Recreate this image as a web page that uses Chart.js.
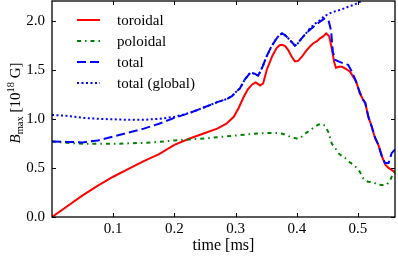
<!DOCTYPE html>
<html>
<head>
<meta charset="utf-8">
<script src="https://cdn.jsdelivr.net/npm/chart.js@4/dist/chart.umd.min.js"></script>
<style>
  html, body { margin: 0; padding: 0; background: #fff; }
  canvas { display: block; }
</style>
</head>
<body>
<canvas id="bfield" width="398" height="259"></canvas>
<script>
// time in ms, B_max in 10^18 G
const toroidalTime = [0, 0.025, 0.05, 0.075, 0.1, 0.125, 0.15, 0.175, 0.2, 0.225, 0.25, 0.27, 0.285, 0.297, 0.305, 0.313, 0.32, 0.327, 0.333, 0.34, 0.345, 0.351, 0.36, 0.367, 0.372, 0.376, 0.381, 0.386, 0.392, 0.397, 0.402, 0.408, 0.415, 0.422, 0.427, 0.433, 0.438, 0.443, 0.448, 0.453, 0.457, 0.461, 0.464, 0.469, 0.474, 0.48, 0.487, 0.492, 0.497, 0.503, 0.508, 0.512, 0.517, 0.522, 0.528, 0.533, 0.539, 0.545, 0.55, 0.555, 0.561];
const toroidalB = [0, 0.11, 0.22, 0.32, 0.41, 0.49, 0.57, 0.64, 0.735, 0.8, 0.855, 0.9, 0.95, 1.02, 1.11, 1.22, 1.3, 1.35, 1.37, 1.34, 1.36, 1.5, 1.64, 1.72, 1.75, 1.755, 1.74, 1.7, 1.63, 1.585, 1.59, 1.63, 1.69, 1.74, 1.77, 1.79, 1.82, 1.84, 1.87, 1.84, 1.72, 1.58, 1.52, 1.53, 1.53, 1.51, 1.48, 1.43, 1.38, 1.26, 1.2, 1.16, 1.02, 0.93, 0.8, 0.74, 0.62, 0.53, 0.5, 0.48, 0.45];

const poloidalTime = [0, 0.025, 0.05, 0.075, 0.1, 0.125, 0.15, 0.175, 0.2, 0.225, 0.25, 0.275, 0.3, 0.325, 0.35, 0.37, 0.378, 0.384, 0.392, 0.4, 0.405, 0.41, 0.416, 0.423, 0.43, 0.435, 0.44, 0.446, 0.452, 0.457, 0.463, 0.468, 0.474, 0.479, 0.486, 0.493, 0.498, 0.503, 0.509, 0.516, 0.525, 0.532, 0.539, 0.547, 0.553, 0.558, 0.561];
const poloidalB = [0.77, 0.755, 0.745, 0.745, 0.745, 0.75, 0.755, 0.765, 0.78, 0.79, 0.8, 0.815, 0.83, 0.845, 0.855, 0.855, 0.845, 0.83, 0.81, 0.8, 0.8, 0.83, 0.86, 0.89, 0.92, 0.94, 0.95, 0.93, 0.86, 0.75, 0.7, 0.65, 0.62, 0.6, 0.56, 0.53, 0.5, 0.46, 0.39, 0.36, 0.355, 0.33, 0.325, 0.33, 0.38, 0.45, 0.47];

const totalTime = [0, 0.025, 0.05, 0.075, 0.1, 0.125, 0.15, 0.175, 0.2, 0.225, 0.25, 0.27, 0.285, 0.294, 0.3, 0.307, 0.315, 0.324, 0.331, 0.337, 0.344, 0.351, 0.358, 0.365, 0.371, 0.376, 0.381, 0.386, 0.392, 0.397, 0.402, 0.408, 0.415, 0.422, 0.43, 0.438, 0.445, 0.452, 0.456, 0.459, 0.463, 0.47, 0.478, 0.484, 0.49, 0.495, 0.503, 0.508, 0.512, 0.517, 0.522, 0.528, 0.533, 0.539, 0.544, 0.55, 0.555, 0.561];
const totalB = [0.77, 0.765, 0.76, 0.78, 0.82, 0.86, 0.9, 0.95, 1.01, 1.06, 1.12, 1.17, 1.2, 1.23, 1.27, 1.31, 1.4, 1.47, 1.46, 1.44, 1.53, 1.64, 1.73, 1.8, 1.85, 1.87, 1.85, 1.82, 1.78, 1.745, 1.77, 1.82, 1.87, 1.91, 1.95, 1.99, 2.02, 2.0, 1.9, 1.68, 1.6, 1.58, 1.56, 1.55, 1.48, 1.41, 1.27, 1.2, 1.16, 1.02, 0.93, 0.81, 0.74, 0.62, 0.55, 0.55, 0.65, 0.69];

const globalTime = [0, 0.025, 0.05, 0.075, 0.1, 0.125, 0.15, 0.175, 0.2, 0.225, 0.25, 0.27, 0.285, 0.294, 0.3, 0.307, 0.315, 0.324, 0.331, 0.337, 0.344, 0.351, 0.358, 0.365, 0.371, 0.376, 0.381, 0.386, 0.392, 0.397, 0.402, 0.408, 0.415, 0.422, 0.43, 0.437, 0.444, 0.452, 0.46, 0.471, 0.48, 0.487, 0.493, 0.503, 0.51, 0.52, 0.53, 0.545, 0.561];
const globalB = [1.04, 1.03, 1.01, 1.0, 0.995, 0.99, 0.99, 1.0, 1.02, 1.06, 1.12, 1.17, 1.2, 1.23, 1.27, 1.31, 1.4, 1.47, 1.46, 1.44, 1.53, 1.64, 1.73, 1.8, 1.85, 1.87, 1.85, 1.82, 1.78, 1.745, 1.77, 1.82, 1.87, 1.925, 1.97, 2.0, 2.04, 2.07, 2.09, 2.11, 2.13, 2.15, 2.16, 2.19, 2.22, 2.26, 2.3, 2.35, 2.4];

const seriesLabels = ['toroidal', 'poloidal', 'total', 'total (global)'];
const xTickValues = [0.1, 0.2, 0.3, 0.4, 0.5];
const yTickValues = [0, 0.5, 1.0, 1.5, 2.0];

const pts = (t, b) => t.map((x, i) => ({ x: x, y: b[i] }));

Chart.defaults.font.family = 'Liberation Serif';
Chart.defaults.color = '#000';

// inward ticks on all four sides + black frame, like the matplotlib classic style
const frameTicks = {
    id: 'frameTicks',
    afterDatasetsDraw(chart) {
        const { ctx, chartArea: a, scales } = chart;
        ctx.save();
        ctx.strokeStyle = '#000';
        ctx.lineWidth = 1;
        ctx.beginPath();
        scales.x.ticks.forEach(t => {
            const px = Math.round(scales.x.getPixelForValue(t.value)) + 0.5;
            ctx.moveTo(px, a.bottom); ctx.lineTo(px, a.bottom - 4);
            ctx.moveTo(px, a.top); ctx.lineTo(px, a.top + 4);
        });
        scales.y.ticks.forEach(t => {
            const py = Math.round(scales.y.getPixelForValue(t.value)) + 0.5;
            ctx.moveTo(a.left, py); ctx.lineTo(a.left + 4, py);
            ctx.moveTo(a.right, py); ctx.lineTo(a.right - 4, py);
        });
        ctx.stroke();
        ctx.lineWidth = 1.3;
        ctx.strokeRect(a.left, a.top, a.right - a.left, a.bottom - a.top);
        ctx.restore();
    }
};

// legend in upper left, no frame, plus axis titles (with sub/superscripts)
const legendTitles = {
    id: 'legendTitles',
    afterDraw(chart) {
        const { ctx, chartArea: a } = chart;
        ctx.save();
        chart.data.datasets.forEach((ds, i) => {
            const y = 20 + i * 21;
            ctx.strokeStyle = ds.borderColor;
            ctx.lineWidth = ds.borderWidth;
            ctx.setLineDash(ds.borderDash || []);
            ctx.beginPath();
            ctx.moveTo(77, y); ctx.lineTo(100, y);
            ctx.stroke();
            ctx.setLineDash([]);
            ctx.fillStyle = '#000';
            ctx.font = '15px "Liberation Serif"';
            ctx.textBaseline = 'alphabetic';
            ctx.fillText(ds.label, 117, y + 5);
        });

        // x title
        ctx.font = '16px "Liberation Serif"';
        ctx.textAlign = 'center';
        ctx.fillText('time [ms]', (a.left + a.right) / 2, 250);

        // y title: B_max [10^18 G]
        const parts = [
            { t: 'B', f: 'italic 15px "Liberation Serif"', dy: 0 },
            { t: 'max', f: '10.5px "Liberation Serif"', dy: 3 },
            { t: ' [10', f: '15px "Liberation Serif"', dy: 0 },
            { t: '18', f: '10.5px "Liberation Serif"', dy: -6 },
            { t: ' G]', f: '15px "Liberation Serif"', dy: 0 }
        ];
        ctx.textAlign = 'left';
        let w = 0;
        parts.forEach(p => { ctx.font = p.f; p.w = ctx.measureText(p.t).width; w += p.w; });
        ctx.translate(20, 103);
        ctx.rotate(-Math.PI / 2);
        let x = -w / 2;
        parts.forEach(p => { ctx.font = p.f; ctx.fillText(p.t, x, p.dy); x += p.w; });
        ctx.restore();
    }
};

const ctx = document.getElementById('bfield').getContext('2d');

new Chart(ctx, {
    type: 'line',
    data: {
        datasets: [
            { label: seriesLabels[0], data: pts(toroidalTime, toroidalB), borderColor: '#ff0000', borderWidth: 2, order: 3 },
            { label: seriesLabels[1], data: pts(poloidalTime, poloidalB), borderColor: '#008000', borderWidth: 2, borderDash: [4, 4, 1.5, 4], order: 2 },
            { label: seriesLabels[2], data: pts(totalTime, totalB), borderColor: '#0000ff', borderWidth: 2, borderDash: [9, 4], order: 1 },
            { label: seriesLabels[3], data: pts(globalTime, globalB), borderColor: '#0000ff', borderWidth: 2, borderDash: [2, 2.5], order: 0 }
        ]
    },
    options: {
        responsive: false,
        animation: false,
        devicePixelRatio: 1,
        layout: { padding: { top: 1, right: 3, left: 0, bottom: 0 } },
        elements: {
            point: { radius: 0 },
            line: { tension: 0, fill: false, borderCapStyle: 'butt' }
        },
        datasets: { line: { clip: 0 } },
        plugins: {
            legend: { display: false },
            tooltip: { enabled: false }
        },
        scales: {
            x: {
                type: 'linear',
                min: 0,
                max: 0.5605,
                afterBuildTicks: s => { s.ticks = xTickValues.map(v => ({ value: v })); },
                afterFit: s => { s.height = 42; s.paddingLeft = 0; s.paddingRight = 0; },
                grid: { display: false, drawTicks: false },
                border: { display: false },
                ticks: { font: { size: 15 }, padding: 3, maxRotation: 0, callback: v => v.toFixed(1) }
            },
            y: {
                min: 0,
                max: 2.2,
                afterBuildTicks: s => { s.ticks = yTickValues.map(v => ({ value: v })); },
                afterFit: s => { s.width = 52; s.paddingTop = 0; s.paddingBottom = 0; },
                grid: { display: false, drawTicks: false },
                border: { display: false },
                ticks: { font: { size: 15 }, padding: 7, callback: v => v.toFixed(1) }
            }
        }
    },
    plugins: [frameTicks, legendTitles]
});
</script>
</body>
</html>
